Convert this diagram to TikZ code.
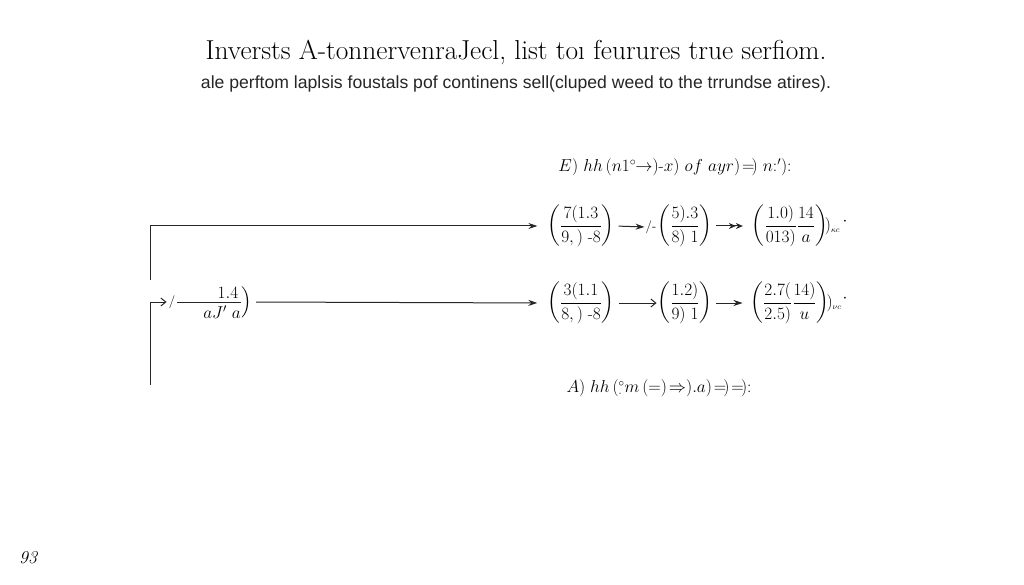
\documentclass[tikz,border=0pt]{standalone}
\usepackage{amsmath}
\usepackage{fontspec}
\newfontfamily\subfont{Liberation Sans}
\usetikzlibrary{arrows.meta}
\begin{document}
\begin{tikzpicture}[x=1pt,y=-1pt,
  conn/.style={line width=1pt, draw=black!85},
  tip/.style={-{Stealth[length=9pt,width=6pt]}},
  dtip/.style={-{Stealth[length=7pt,width=6pt]Stealth[length=7pt,width=6pt]}},
  otip/.style={-{Straight Barb[length=5pt,width=8pt]}},
  mat/.style={inner sep=0pt, outer sep=0pt, font=\fontsize{16.5}{19}\selectfont},
  lbl/.style={inner sep=0pt, font=\fontsize{17}{20}\selectfont},
  small/.style={inner sep=0pt, font=\fontsize{13}{15}\selectfont}]
\useasboundingbox (0,0) rectangle (1024,585);
\fill[white] (0,0) rectangle (1024,585);

\node[inner sep=0pt, font=\fontsize{27.4}{32}\selectfont] (title) at (516,52) {Inversts A-tonnervenraJecl, list to\i{} feurures true serfiom.};
\node[inner sep=0pt, font=\subfont\fontsize{17.6}{20}\selectfont, text=black!85] (sub) at (516,84) {ale perftom laplsis foustals pof continens sell(cluped weed to the trrundse atires).};

\node[lbl] (lblE) at (675,167) {$E)\ hh\,(n1^{\circ}\!\!\rightarrow)\text{-}x)\ of\ ayr)\!=\!)\ n{:}'){:}$};

% row 1
\node[mat] (m11) at (581,226) {$\displaystyle\left(\frac{7(1.3}{9,)\ \text{-}8}\right)$};
\node[small] (sl1) at (651,227) {/-};
\node[mat] (m12) at (685,226) {$\displaystyle\left(\frac{5).3}{8)\ 1}\right)$};
\node[mat] (m13) at (796,226) {$\displaystyle\left(\frac{1.0)}{013)}\frac{14}{a}\right)\!)_{\scriptscriptstyle \kappa c}$};
\node[mat] (d1) at (845,222) {$\cdot$};

\coordinate (s1) at (150,280);
\draw[conn,tip,shorten >=10pt] (s1) |- (m11.west);
\draw[conn,tip,shorten <=4pt,shorten >=1pt] (m11.east) -- (sl1.west);
\draw[conn,dtip,shorten <=4pt,shorten >=9pt] (m12.east) -- (m13.west);

% row 2
\coordinate (s2) at (150,385);
\node[small] (sl2) at (172,302) {/};
\draw[conn,otip,shorten >=2pt] (s2) |- (sl2.west);
\node[mat] (n14) at (228,293) {$1.4$};
\node[mat] (naj) at (222,312) {$aJ'\ a$};
\node[mat] (rp) at (247,302) {$\Big)$};
\draw[conn,shorten <=2pt,shorten >=1pt] (sl2.east) -- (rp.west);

\node[mat] (m21) at (581,303) {$\displaystyle\left(\frac{3(1.1}{8,)\ \text{-}8}\right)$};
\node[mat] (m22) at (685,303) {$\displaystyle\left(\frac{1.2)}{9)\ 1}\right)$};
\node[mat] (m23) at (796,303) {$\displaystyle\left(\frac{2.7(}{2.5)}\frac{14)}{u}\right)\!)_{\scriptscriptstyle \nu c}$};
\node[mat] (d2) at (845,299) {$\cdot$};

\draw[conn,tip,shorten <=4pt,shorten >=10pt] (rp.east) -- (m21.west);
\draw[conn,otip,shorten <=4pt,shorten >=1pt] (m21.east) -- (m22.west);
\draw[conn,tip,shorten <=4pt,shorten >=8pt] (m22.east) -- (m23.west);

\node[lbl,font=\fontsize{16}{19}\selectfont] (lblA) at (659,388) {$A)\ hh\,({}^{\circ}_{\cdot}m\,(=)\!\Rightarrow).a)\!=\!)\!=\!){:}$};

\node[inner sep=0pt, font=\fontsize{18}{21}\selectfont\itshape] (pg) at (28,558) {93};
\end{tikzpicture}
\end{document}
